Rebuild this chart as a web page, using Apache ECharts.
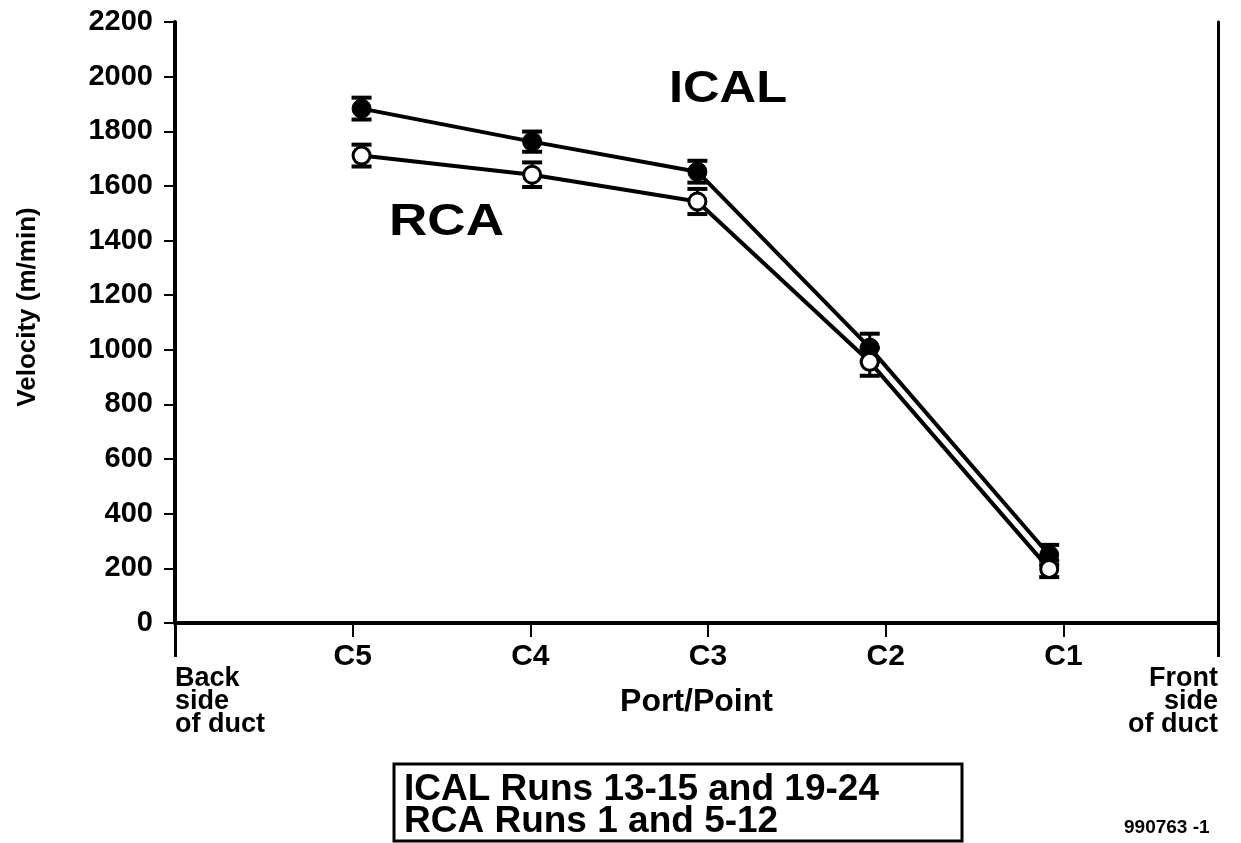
<!DOCTYPE html>
<html>
<head>
<meta charset="utf-8">
<script src="https://cdn.jsdelivr.net/npm/echarts@6/dist/echarts.min.js"></script>
<style>html,body{margin:0;padding:0;background:#fff;}#c{width:1241px;height:843px;}</style>
</head>
<body>
<div id="c"></div>
<script>
// ---- data ----
var portLabels = ['', 'C5', 'C4', 'C3', 'C2', 'C1'];
var pointX = [1.05, 2.01, 2.94, 3.91, 4.92];
var icalVel = [1883, 1762, 1652, 1008, 249];
var icalErr = [40, 37, 40, 51, 37];
var rcaVel = [1711, 1641, 1543, 956, 198];
var rcaErr = [40, 45, 46, 51, 30];
var yTicks = [0, 200, 400, 600, 800, 1000, 1200, 1400, 1600, 1800, 2000, 2200];
var xMax = 5.87;

var FONT = '"Liberation Sans", Arial, sans-serif';

function pairs(xs, ys) { return xs.map(function (x, i) { return [x, ys[i]]; }); }
function errData(xs, ys, es) { return xs.map(function (x, i) { return [x, ys[i] - es[i], ys[i] + es[i]]; }); }

function errRender(params, api) {
  var x = api.value(0), lo = api.value(1), hi = api.value(2);
  var pLo = api.coord([x, lo]), pHi = api.coord([x, hi]);
  var hw = 10;
  var st = { stroke: '#000', lineWidth: 3 };
  return {
    type: 'group',
    children: [
      { type: 'line', shape: { x1: pLo[0], y1: pLo[1], x2: pHi[0], y2: pHi[1] }, style: st },
      { type: 'line', shape: { x1: pLo[0] - hw, y1: pLo[1], x2: pLo[0] + hw, y2: pLo[1] }, style: { stroke: '#000', lineWidth: 4 } },
      { type: 'line', shape: { x1: pHi[0] - hw, y1: pHi[1], x2: pHi[0] + hw, y2: pHi[1] }, style: { stroke: '#000', lineWidth: 4 } }
    ]
  };
}

var chart = echarts.init(document.getElementById('c'), null, { renderer: 'canvas' });
chart.setOption({
  animation: false,
  backgroundColor: '#fff',
  textStyle: { fontFamily: FONT },
  grid: { left: 175, right: 23, top: 22, bottom: 220, containLabel: false },
  xAxis: [
    {
      type: 'value', min: 0, max: xMax, interval: 1, position: 'bottom',
      axisLine: { show: true, onZero: false, lineStyle: { color: '#000', width: 4 } },
      axisTick: { show: true, length: 14, lineStyle: { color: '#000', width: 2 } },
      splitLine: { show: false },
      axisLabel: {
        color: '#000', fontSize: 30, fontWeight: 'bold', fontFamily: FONT, margin: 19,
        showMinLabel: true, showMaxLabel: true,
        formatter: function (v) {
          var r = Math.round(v);
          if (Math.abs(v - r) > 1e-6) return '';
          return portLabels[r] || '';
        }
      },
      name: 'Port/Point', nameLocation: 'middle', nameGap: 63,
      nameTextStyle: { color: '#000', fontSize: 32, fontWeight: 'bold', fontFamily: FONT }
    },
    {
      type: 'value', min: 0, max: xMax, interval: xMax, position: 'bottom',
      axisLine: { show: false },
      axisTick: { show: true, length: 34, lineStyle: { color: '#000', width: 3 } },
      splitLine: { show: false },
      axisLabel: {
        color: '#000', fontSize: 27, fontWeight: 'bold', fontFamily: FONT, margin: 44, lineHeight: 23,
        showMinLabel: true, showMaxLabel: true,
        alignMinLabel: 'left', alignMaxLabel: 'right',
        formatter: function (v) { return v < 1 ? 'Back\nside\nof duct' : 'Front\nside\nof duct'; }
      }
    }
  ],
  yAxis: [
    {
      type: 'value', min: yTicks[0], max: yTicks[yTicks.length - 1], interval: 200, position: 'left',
      axisLine: { show: true, onZero: false, lineStyle: { color: '#000', width: 4 } },
      axisTick: { show: true, length: 11, lineStyle: { color: '#000', width: 2 } },
      splitLine: { show: false },
      axisLabel: {
        color: '#000', fontSize: 29, fontWeight: 'bold', fontFamily: FONT, margin: 22,
        formatter: function (v) { return String(v); }
      }
    },
    {
      type: 'value', min: 0, max: 2200, interval: 200, position: 'right',
      axisLine: { show: true, onZero: false, lineStyle: { color: '#000', width: 3 } },
      axisTick: { show: false }, axisLabel: { show: false }, splitLine: { show: false }
    }
  ],
  series: [
    {
      name: 'ICAL err', type: 'custom', xAxisIndex: 0, yAxisIndex: 0, z: 2,
      renderItem: errRender, data: errData(pointX, icalVel, icalErr)
    },
    {
      name: 'RCA err', type: 'custom', xAxisIndex: 0, yAxisIndex: 0, z: 2,
      renderItem: errRender, data: errData(pointX, rcaVel, rcaErr)
    },
    {
      name: 'ICAL', type: 'line', xAxisIndex: 0, yAxisIndex: 0, z: 3,
      data: pairs(pointX, icalVel),
      lineStyle: { color: '#000', width: 4 },
      symbol: 'circle', symbolSize: 19,
      itemStyle: { color: '#000', borderColor: '#000', borderWidth: 1 }
    },
    {
      name: 'RCA', type: 'line', xAxisIndex: 0, yAxisIndex: 0, z: 4,
      data: pairs(pointX, rcaVel),
      lineStyle: { color: '#000', width: 4 },
      symbol: 'circle', symbolSize: 17,
      itemStyle: { color: '#fff', borderColor: '#000', borderWidth: 3 }
    }
  ],
  graphic: [
    { type: 'text', x: 28, y: 307, rotation: Math.PI / 2,
      style: { text: 'Velocity (m/min)', font: 'bold 26px ' + FONT, fill: '#000', align: 'center', verticalAlign: 'middle' } },
    { type: 'text', x: 669, y: 90, scaleX: 1.15,
      style: { text: 'ICAL', font: 'bold 44px ' + FONT, fill: '#000', align: 'left', verticalAlign: 'middle' } },
    { type: 'text', x: 389, y: 223, scaleX: 1.18,
      style: { text: 'RCA', font: 'bold 45px ' + FONT, fill: '#000', align: 'left', verticalAlign: 'middle' } },
    { type: 'rect', shape: { x: 394, y: 764, width: 568, height: 77 }, style: { fill: '#fff', stroke: '#000', lineWidth: 3 } },
    { type: 'text', left: 404, top: 771, style: { text: 'ICAL Runs 13-15 and 19-24\nRCA Runs 1 and 5-12', font: 'bold 37px ' + FONT, lineHeight: 32, fill: '#000' } },
    { type: 'text', left: 1124, top: 818, style: { text: '990763 -1', font: 'bold 19px ' + FONT, fill: '#000' } }
  ]
});
</script>
</body>
</html>
